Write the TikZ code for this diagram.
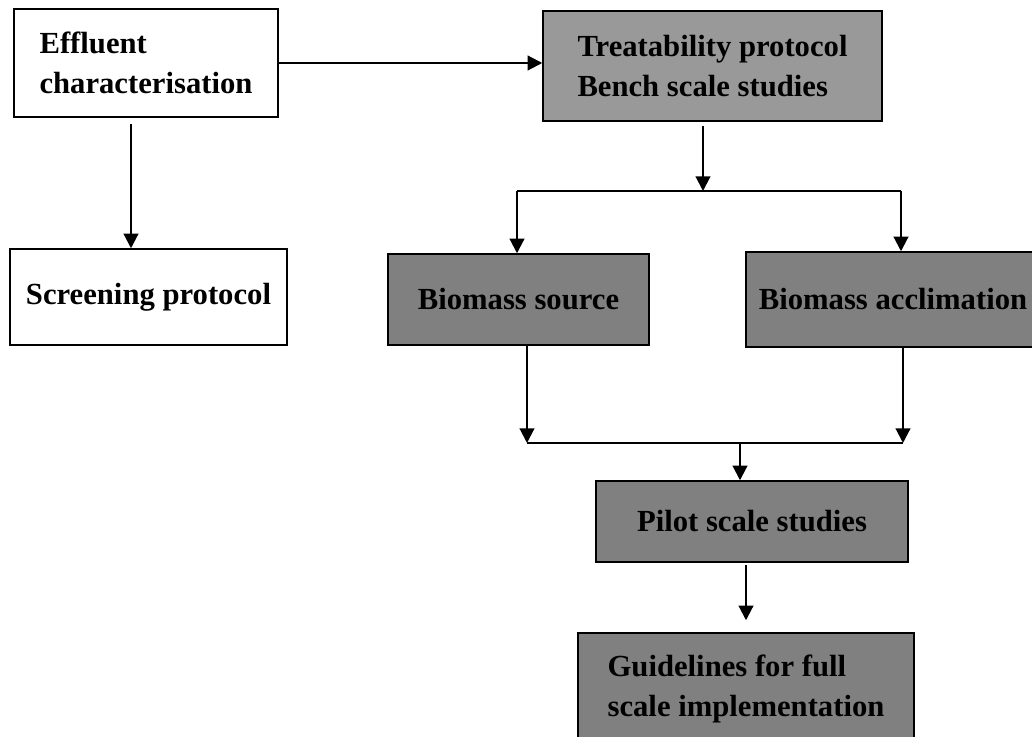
\documentclass[tikz,border=0pt]{standalone}
\usepackage{fontspec}
\setmainfont{Liberation Serif}
\usepackage{xcolor}
\usetikzlibrary{arrows.meta,calc}
\definecolor{boxgrey}{RGB}{128,128,128}
\definecolor{lightgrey}{RGB}{153,153,153}

\begin{document}
\begin{tikzpicture}[x=0.75pt,y=-0.75pt,
  every node/.style={font=\fontsize{23}{30}\selectfont\bfseries},
  box/.style={draw,line width=1.1pt,align=left,inner sep=0pt},
  arr/.style={-{Triangle[length=11pt,width=11pt]},line width=1.6pt},
  link/.style={line width=1.2pt}]
  \useasboundingbox (0,0) rectangle (1032,737);
  \node[box,fill=white,minimum width=198pt,minimum height=81pt] (eff) at (146,63) {Effluent\\characterisation};
  \node[box,fill=lightgrey,minimum width=254.25pt,minimum height=82.5pt] (treat) at (712.5,66) {Treatability protocol\\Bench scale studies};
  \node[box,fill=white,minimum width=207.75pt,minimum height=72pt] (scr) at (148.5,297) {Screening protocol};
  \node[box,fill=boxgrey,minimum width=195.75pt,minimum height=68.25pt] (bsrc) at (518.5,299.5) {Biomass source};
  \node[box,fill=boxgrey,minimum width=220.5pt,minimum height=71.25pt] (accl) at (893,299.5) {Biomass acclimation};
  \node[box,fill=boxgrey,minimum width=234pt,minimum height=60.75pt] (pilot) at (752,521.5) {Pilot scale studies};
  \node[box,fill=boxgrey,minimum width=252pt,minimum height=84pt] (guide) at (746,689) {Guidelines for full\\scale implementation};
  \coordinate (effout) at ($(eff.south)+(-15,0)$);
  \coordinate (split) at (703,191);
  \coordinate (splitL) at (517,191);
  \coordinate (splitR) at (901,191);
  \coordinate (merge) at (740,443);
  \coordinate (mergeL) at (527,443);
  \coordinate (mergeR) at (903,443);
  \draw[arr] (eff.east) -- (eff.east -| treat.west);
  \draw[arr,shorten <=5pt] (effout) -- (effout |- scr.north);
  \draw[arr,shorten <=3pt] (split |- treat.south) -- (split);
  \draw[link] (splitL) -- (splitR);
  \draw[arr] (splitL) -- (splitL |- bsrc.north);
  \draw[arr] (splitR) -- (splitR |- accl.north);
  \draw[arr] (mergeL |- bsrc.south) -- (mergeL);
  \draw[arr] (mergeR |- accl.south) -- (mergeR);
  \draw[link] (mergeL) -- (mergeR);
  \draw[arr] (merge) -- (merge |- pilot.north);
  \draw[arr,shorten <=2pt,shorten >=9pt] (pilot.south -| guide.north) -- (guide.north);
\end{tikzpicture}
\end{document}
